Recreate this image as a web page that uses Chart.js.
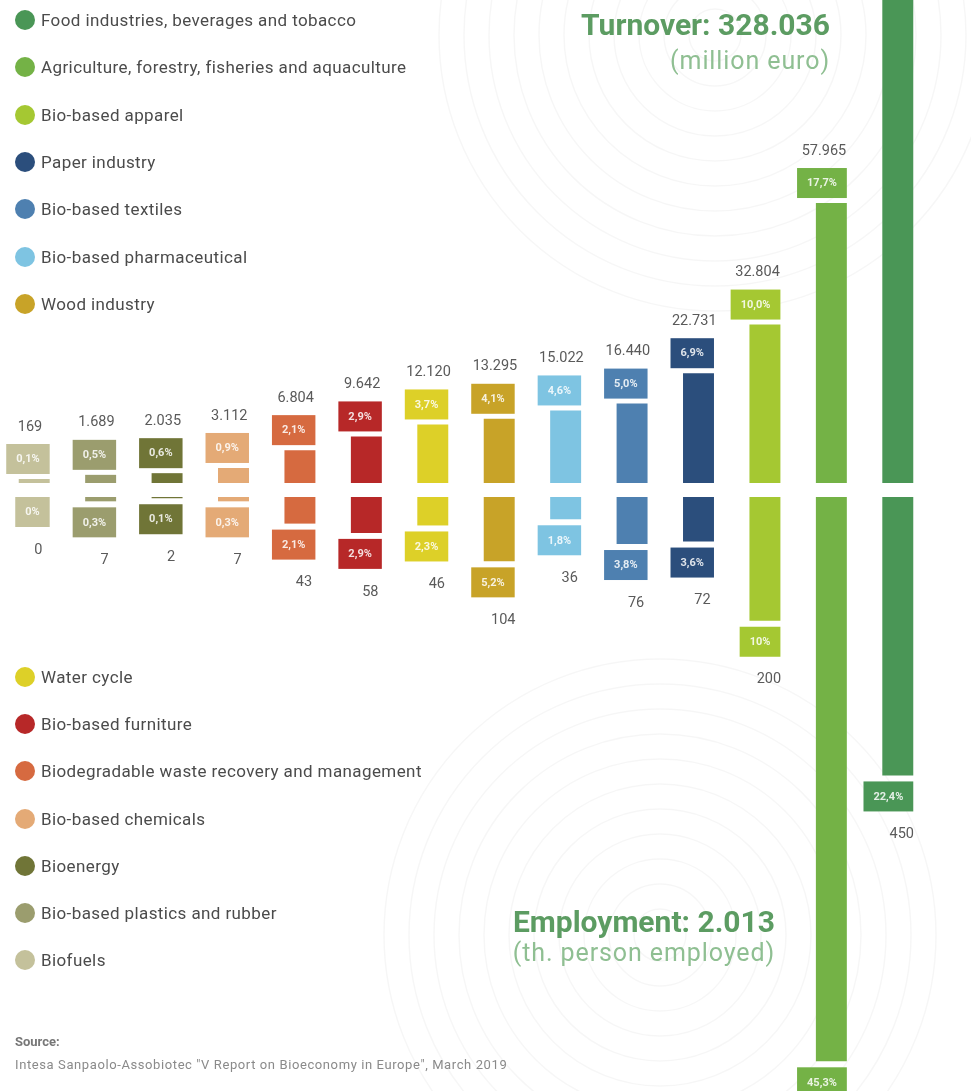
<!DOCTYPE html>
<html>
<head>
<meta charset="utf-8">
<script src="https://cdn.jsdelivr.net/npm/chart.js@4.4.1/dist/chart.umd.min.js"></script>
<style>
body { margin: 0; background: #fff; font-family: Roboto, sans-serif; }
#wrap { position: relative; width: 971px; height: 1091px; overflow: hidden; }
canvas { position: absolute; left: 0; }
#turnoverChart { top: 0; }
#employmentChart { top: 490px; }
.leg { position: absolute; left: 15px; height: 20px; display: flex; align-items: center; font-size: 17px; letter-spacing: 0.4px; color: #4b4b4b; white-space: nowrap; }
.leg i { width: 20px; height: 20px; border-radius: 50%; margin-right: 6px; display: inline-block; }
.ttl { position: absolute; text-align: right; white-space: nowrap; }
.ttl b { display: block; font-size: 30px; font-weight: 700; color: #5c9c62; line-height: 30px; }
.ttl span { display: block; font-size: 25px; letter-spacing: 0.9px; color: #8fbf92; line-height: 26px; }
#src { position: absolute; left: 15px; top: 1034px; font-size: 13px; letter-spacing: 0.6px; color: #8a8a8a; }
#src b { display: block; color: #777; margin-bottom: 8px; letter-spacing: 0; }
</style>
</head>
<body>
<div id="wrap">
  <canvas id="turnoverChart" width="971" height="490"></canvas>
  <canvas id="employmentChart" width="971" height="601"></canvas>
  <div class="ttl" style="right:141px; top:10px;"><b>Turnover: 328.036</b><span style="margin-top:8px">(million euro)</span></div>
  <div class="ttl" style="right:196px; top:907px;"><b>Employment: 2.013</b><span style="margin-top:3px">(th. person employed)</span></div>
  <div id="src"><b>Source:</b>Intesa Sanpaolo-Assobiotec "V Report on Bioeconomy in Europe", March 2019</div>
</div>
<script>
const sectors = [
    'Biofuels',
    'Bio-based plastics and rubber',
    'Bioenergy',
    'Bio-based chemicals',
    'Biodegradable waste recovery and management',
    'Bio-based furniture',
    'Water cycle',
    'Wood industry',
    'Bio-based pharmaceutical',
    'Bio-based textiles',
    'Paper industry',
    'Bio-based apparel',
    'Agriculture, forestry, fisheries and aquaculture',
    'Food industries, beverages and tobacco'
];
// million euro
const turnover = [169, 1689, 2035, 3112, 6804, 9642, 12120, 13295, 15022, 16440, 22731, 32804, 57965, 134208];
const turnoverShare = ['0,1%', '0,5%', '0,6%', '0,9%', '2,1%', '2,9%', '3,7%', '4,1%', '4,6%', '5,0%', '6,9%', '10,0%', '17,7%', '40,9%'];
// thousand persons employed
const employment = [0, 7, 2, 7, 43, 58, 46, 104, 36, 76, 72, 200, 912, 450];
const employmentShare = ['0%', '0,3%', '0,1%', '0,3%', '2,1%', '2,9%', '2,3%', '5,2%', '1,8%', '3,8%', '3,6%', '10%', '45,3%', '22,4%'];
const colors = ['#c4c19b', '#9b9d6e', '#707537', '#e4aa76', '#d66a40', '#b72828', '#ddd028',
                '#c8a328', '#7ec4e2', '#4e80b0', '#2b4e7c', '#a5c832', '#74b246', '#4a9656'];
const topLegend = [13, 12, 11, 10, 9, 8, 7];
const bottomLegend = [6, 5, 4, 3, 2, 1, 0];

const wrap = document.getElementById('wrap');
function addLegend(list, y0, step) {
    list.forEach((idx, k) => {
        const d = document.createElement('div');
        d.className = 'leg';
        d.style.top = (y0 + k * step - 10) + 'px';
        d.innerHTML = '<i style="background:' + colors[idx] + '"></i>' + sectors[idx];
        wrap.appendChild(d);
    });
}
addLegend(topLegend, 20, 47.33);
addLegend(bottomLegend, 677, 47.2);

function fmt(v) {
    return String(v).replace(/\B(?=(\d{3})+(?!\d))/g, '.');
}

// faint concentric rings behind the titles
const ringsPlugin = {
    id: 'rings',
    beforeDraw(chart, args, opts) {
        const ctx = chart.ctx;
        ctx.save();
        ctx.strokeStyle = 'rgba(0,0,0,0.035)';
        ctx.lineWidth = 1.5;
        for (let r = 26; r < opts.maxR; r += 25) {
            ctx.beginPath();
            ctx.arc(opts.cx, opts.cy, r, 0, Math.PI * 2);
            ctx.stroke();
        }
        ctx.restore();
    }
};

const boxPlugin = {
    id: 'boxes',
    afterDatasetsDraw(chart, args, opts) {
        const ctx = chart.ctx;
        const meta = chart.getDatasetMeta(0);
        ctx.save();
        meta.data.forEach((bar, i) => {
            const w = bar.width;
            const right = bar.x + w / 2;
            ctx.font = 'bold 11px Roboto';
            const tw = ctx.measureText(opts.shares[i]).width;
            const bw = Math.max(w, tw + 20);
            let top;
            if (opts.up) {
                top = bar.y - 5 - 30;
            } else {
                top = bar.y + (opts.values[i] > 0 ? 6 : 0);
            }
            ctx.fillStyle = colors[i];
            ctx.fillRect(right - bw, top, bw, 30);
            ctx.fillStyle = 'rgba(255,255,255,0.85)';
            ctx.textAlign = 'center';
            ctx.textBaseline = 'middle';
            ctx.fillText(opts.shares[i], right - bw / 2, top + 15.5);
            ctx.font = '14.5px Roboto';
            ctx.fillStyle = '#5a5a5a';
            if (opts.up) {
                ctx.fillText(fmt(opts.values[i]), right - bw / 2 + 2, top - 17);
            } else {
                ctx.fillText(fmt(opts.values[i]), bar.x + 4, top + 30 + 23);
            }
        });
        ctx.restore();
    }
};

const turnoverChart = new Chart(document.getElementById('turnoverChart'), {
    type: 'bar',
    data: {
        labels: sectors,
        datasets: [{
            label: 'Turnover',
            data: turnover,
            backgroundColor: colors,
            categoryPercentage: 1,
            barPercentage: 0.466,
            minBarLength: 4
        }]
    },
    options: {
        responsive: false,
        animation: false,
        layout: { padding: { left: 1, right: 40, top: 0, bottom: 7 } },
        scales: {
            x: { display: false },
            y: { display: false, min: 0, max: 100000 }
        },
        plugins: {
            legend: { display: false },
            tooltip: { enabled: false },
            rings: { cx: 715, cy: 35, maxR: 300 },
            boxes: { up: true, values: turnover, shares: turnoverShare }
        }
    },
    plugins: [ringsPlugin, boxPlugin]
});

const employmentChart = new Chart(document.getElementById('employmentChart'), {
    type: 'bar',
    data: {
        labels: sectors,
        datasets: [{
            label: 'Employment',
            data: employment,
            backgroundColor: colors,
            categoryPercentage: 1,
            barPercentage: 0.466
        }]
    },
    options: {
        responsive: false,
        animation: false,
        layout: { padding: { left: 1, right: 40, top: 7, bottom: 0 } },
        scales: {
            x: { display: false },
            y: { display: false, min: 0, max: 960, reverse: true }
        },
        plugins: {
            legend: { display: false },
            tooltip: { enabled: false },
            rings: { cx: 660, cy: 445, maxR: 280 },
            boxes: { up: false, values: employment, shares: employmentShare }
        }
    },
    plugins: [ringsPlugin, boxPlugin]
});
</script>
</body>
</html>
